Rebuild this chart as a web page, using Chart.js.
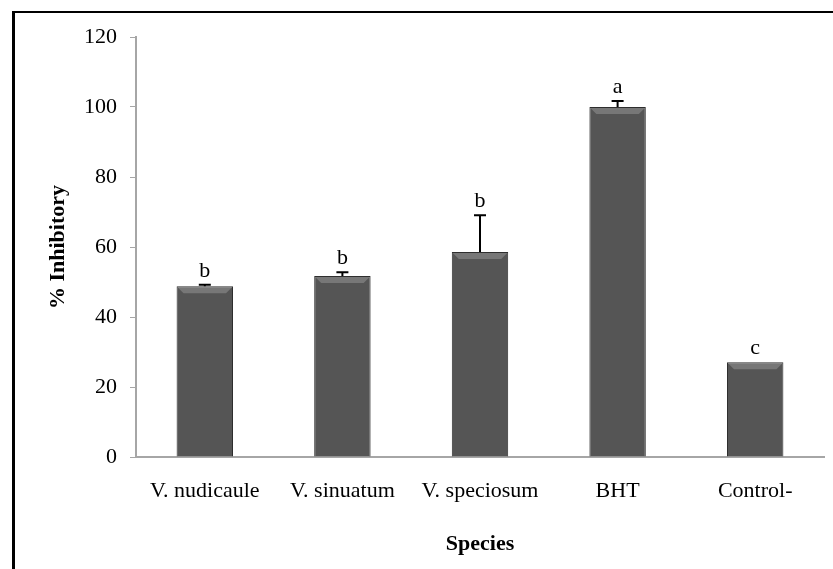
<!DOCTYPE html>
<html lang="en">
<head>
  <meta charset="UTF-8">
  <title>% Inhibitory by Species</title>
  <script src="https://cdn.jsdelivr.net/npm/chart.js"></script>
  <style>
    html, body {
      margin: 0;
      padding: 0;
      background: #fff;
    }
    .wrap {
      position: relative;
      width: 833px;
      height: 569px;
    }
    .frame {
      position: absolute;
      left: 12px;
      top: 11px;
      right: 0;
      bottom: 0;
      border-left: 3px solid #000;
      border-top: 2px solid #000;
      pointer-events: none;
    }
    canvas {
      position: absolute;
      left: 0;
      top: 0;
    }
  </style>
</head>
<body>
  <div class="wrap">
    <canvas id="barChart" width="833" height="569"></canvas>
    <div class="frame"></div>
  </div>

  <script>
    // values
    const species = ['V. nudicaule', 'V. sinuatum', 'V. speciosum', 'BHT', 'Control-'];
    const inhibition = [48.8, 51.7, 58.6, 100, 27.1];
    const errors = [0.4, 1.1, 10.5, 1.7, 0];
    const groups = ['b', 'b', 'b', 'a', 'c'];

    const serif = '"Liberation Serif", "Times New Roman", serif';

    // bar fill: dark grey with slightly darker sides
    function barFill(ctx) {
      const chart = ctx.chart;
      const el = ctx.element;
      if (!chart.chartArea || !el || el.width === undefined) return '#555';
      const x0 = el.x - el.width / 2, x1 = el.x + el.width / 2;
      const g = chart.ctx.createLinearGradient(x0, 0, x1, 0);
      g.addColorStop(0, '#383838');
      g.addColorStop(0.12, '#535353');
      g.addColorStop(0.5, '#5a5a5a');
      g.addColorStop(0.88, '#535353');
      g.addColorStop(1, '#383838');
      return g;
    }

    // small bevel on top of each bar, error bars and group letters
    const extras = {
      id: 'extras',
      afterDatasetsDraw(chart) {
        const ctx = chart.ctx;
        const y = chart.scales.y;
        const meta = chart.getDatasetMeta(0);
        ctx.save();
        meta.data.forEach((bar, i) => {
          const half = bar.width / 2;
          // bevel
          const bev = 7;
          ctx.fillStyle = 'rgba(255,255,255,0.2)';
          ctx.beginPath();
          ctx.moveTo(bar.x - half + 1, bar.y + 1);
          ctx.lineTo(bar.x + half - 1, bar.y + 1);
          ctx.lineTo(bar.x + half - bev, bar.y + bev);
          ctx.lineTo(bar.x - half + bev, bar.y + bev);
          ctx.closePath();
          ctx.fill();

          // error bar (upper only)
          const top = y.getPixelForValue(inhibition[i] + errors[i]);
          if (errors[i] > 0) {
            ctx.strokeStyle = '#000';
            ctx.lineWidth = 2;
            ctx.beginPath();
            ctx.moveTo(bar.x, bar.y);
            ctx.lineTo(bar.x, top);
            ctx.moveTo(bar.x - 6, top);
            ctx.lineTo(bar.x + 6, top);
            ctx.stroke();
          }

          // letter
          ctx.fillStyle = '#000';
          ctx.font = '22px ' + serif;
          ctx.textAlign = 'center';
          ctx.textBaseline = 'alphabetic';
          ctx.fillText(groups[i], bar.x, top - 8);
        });
        ctx.restore();
      }
    };

    const config = {
      type: 'bar',
      data: {
        labels: species,
        datasets: [{
          data: inhibition,
          backgroundColor: barFill,
          borderColor: '#2e2e2e',
          borderWidth: 1,
          barPercentage: 0.41,
          categoryPercentage: 1
        }]
      },
      options: {
        responsive: false,
        animation: false,
        layout: {
          padding: { left: 41, right: 9, top: 37, bottom: 0 }
        },
        plugins: {
          legend: { display: false },
          tooltip: { enabled: false }
        },
        scales: {
          x: {
            grid: { display: false },
            border: { color: '#a6a6a6', width: 2 },
            ticks: {
              color: '#000',
              padding: 13,
              font: { family: serif, size: 22 }
            },
            title: {
              display: true,
              text: 'Species',
              color: '#000',
              font: { family: serif, size: 22, weight: 'bold' },
              padding: { top: 4, bottom: 11 }
            },
            afterFit(scale) { scale.height = 569 - 457; }
          },
          y: {
            min: 0,
            max: 120,
            grid: {
              drawOnChartArea: false,
              drawTicks: true,
              tickLength: 6,
              color: '#a6a6a6'
            },
            border: { color: '#a6a6a6', width: 2 },
            ticks: {
              stepSize: 20,
              color: '#000',
              padding: 13,
              font: { family: serif, size: 22 }
            },
            title: {
              display: true,
              text: '% Inhibitory',
              color: '#000',
              font: { family: serif, size: 22, weight: 'bold' }
            },
            afterFit(scale) { scale.width = 136 - 41; }
          }
        }
      },
      plugins: [extras]
    };

    const ctx = document.getElementById('barChart').getContext('2d');
    const chart = new Chart(ctx, config);
  </script>
</body>
</html>
